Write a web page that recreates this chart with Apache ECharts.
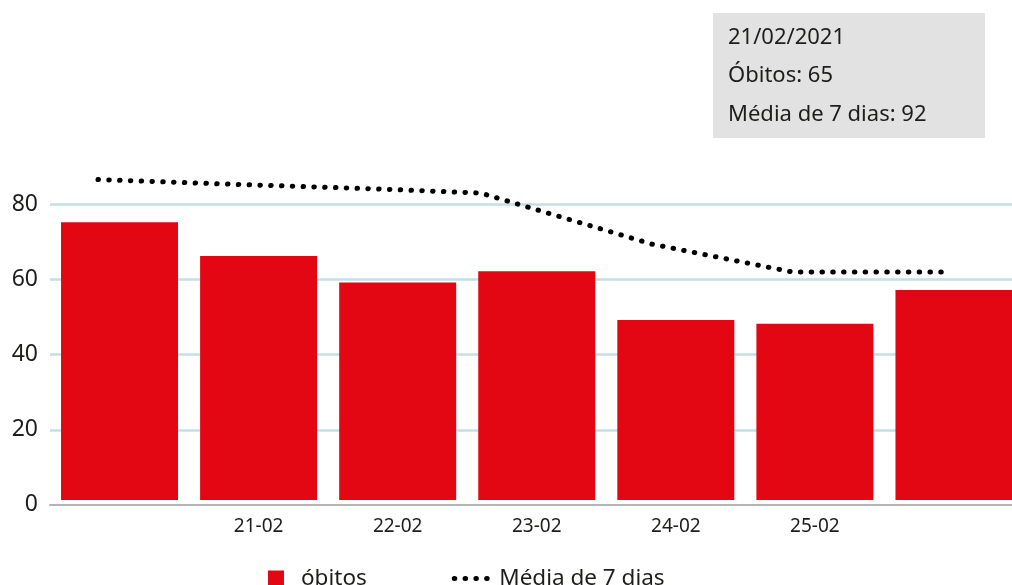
<!DOCTYPE html>
<html>
<head>
<meta charset="utf-8">
<script src="https://cdn.jsdelivr.net/npm/echarts@6/dist/echarts.min.js"></script>
<style>
  html, body { margin: 0; padding: 0; background: #fff; }
  #chart { width: 1012px; height: 585px; }
</style>
</head>
<body>
<div id="chart"></div>
<script>
// dias (primeiro e último sem rótulo no eixo)
var days = ['20-02', '21-02', '22-02', '23-02', '24-02', '25-02', '26-02'];
var obitos = [74, 65, 58, 61, 48, 47, 56];
// média móvel: posição no eixo (em dias) e valor
var mediaX = [-0.155, 0.852, 1.858, 2.599, 3.828, 4.834, 5.91];
var mediaY = [85.4, 84.1, 82.9, 81.8, 68.2, 60.8, 60.8];
var yTicks = [0, 20, 40, 60, 80];
var tipLines = ['21/02/2021', 'Óbitos: 65', 'Média de 7 dias: 92'];

var font = 'Noto Sans';
var dotLine = {color: '#000', width: 5, type: [0.5, 10.3], cap: 'round'};
var mediaData = mediaX.map(function (x, i) { return [x, mediaY[i]]; });

var mychart = echarts.init(document.getElementById('chart'));
var option = {
    animation: false,
    textStyle: {fontFamily: font},
    grid: [
        {left: 50, width: 973.5, top: 124.8, bottom: 85, outerBoundsMode: 'none'},
        {left: 50, width: 973.5, top: 129.6, bottom: 80.2, outerBoundsMode: 'none'}
    ],
    legend: {
        left: 268,
        top: 567,
        padding: 0,
        itemWidth: 40,
        itemHeight: 16,
        itemGap: 85,
        textStyle: {fontFamily: font, fontSize: 22.5, color: '#1d1d1b'},
        data: [
            {name: 'óbitos', icon: 'path://M0 0h10v10h-10z'},
            {name: 'Média de 7 dias', itemStyle: {color: 'rgba(0,0,0,0)'}, lineStyle: dotLine}
        ]
    },
    xAxis: [
        {gridIndex: 0, type: 'category', data: days, show: false},
        {
            gridIndex: 1,
            type: 'category',
            data: days,
            axisLine: {lineStyle: {color: '#b4b4b4', width: 2}},
            axisTick: {alignWithLabel: true, length: 6, lineStyle: {color: '#bfe0e5', width: 2}},
            axisLabel: {
                interval: 0,
                margin: 12,
                fontSize: 19,
                color: '#1d1d1b',
                formatter: function (v, i) {
                    return (i === 0 || i === days.length - 1) ? '' : v;
                }
            }
        },
        {gridIndex: 0, type: 'value', min: -0.5, max: 6.5, show: false}
    ],
    yAxis: [
        {gridIndex: 0, type: 'value', min: 0, max: 100, show: false},
        {
            gridIndex: 1,
            type: 'value',
            min: 0,
            max: 100,
            interval: 20,
            axisLine: {show: false},
            axisTick: {show: false},
            axisLabel: {
                margin: 12,
                fontSize: 23,
                color: '#1d1d1b',
                formatter: function (v) {
                    return yTicks.indexOf(v) >= 0 ? String(v) : '';
                }
            },
            splitLine: {
                showMinLine: false,
                showMaxLine: false,
                lineStyle: {color: '#c2e0e4', width: 2.5}
            }
        }
    ],
    series: [
        {
            name: 'óbitos',
            type: 'bar',
            xAxisIndex: 0,
            yAxisIndex: 0,
            barWidth: 117,
            itemStyle: {color: '#e30613'},
            data: obitos
        },
        {
            name: 'Média de 7 dias',
            type: 'line',
            xAxisIndex: 2,
            yAxisIndex: 0,
            symbol: 'none',
            itemStyle: {color: '#000'},
            lineStyle: dotLine,
            data: mediaData,
            z: 5
        }
    ],
    graphic: [
        {
            type: 'group',
            left: 713,
            top: 13,
            children: [
                {type: 'rect', shape: {x: 0, y: 0, width: 272, height: 125}, style: {fill: '#e1e2e1'}},
                {type: 'text', x: 15, y: 25, style: {text: tipLines[0], font: '22px "' + font + '"', fill: '#1d1d1b', verticalAlign: 'middle'}},
                {type: 'text', x: 15, y: 63, style: {text: tipLines[1], font: '22px "' + font + '"', fill: '#1d1d1b', verticalAlign: 'middle'}},
                {type: 'text', x: 15, y: 102, style: {text: tipLines[2], font: '22px "' + font + '"', fill: '#1d1d1b', verticalAlign: 'middle'}}
            ]
        }
    ]
};
mychart.setOption(option);
</script>
</body>
</html>
